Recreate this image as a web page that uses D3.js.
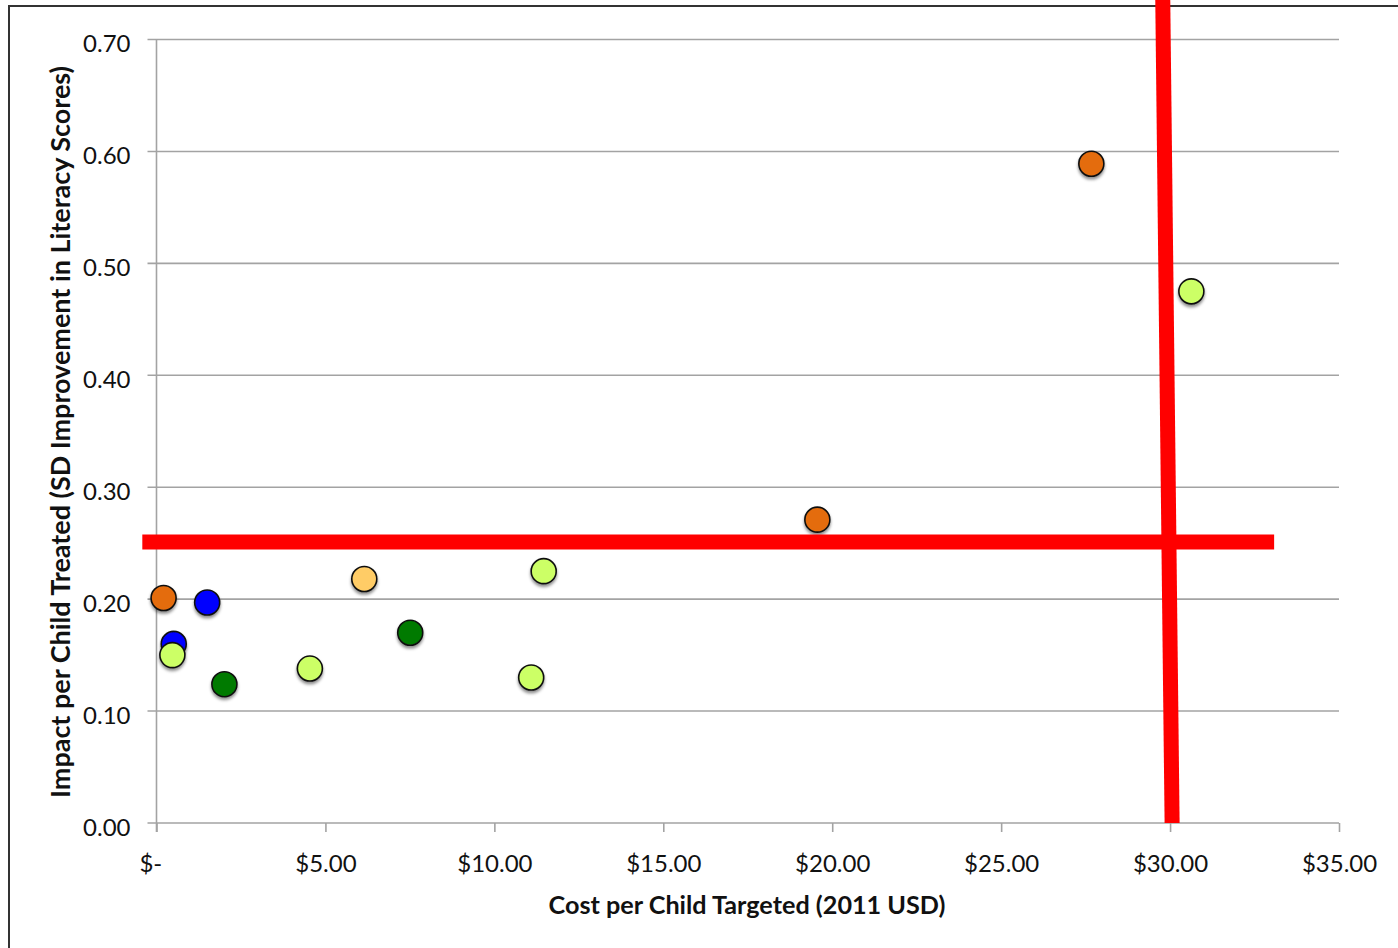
<!DOCTYPE html>
<html>
<head>
<meta charset="utf-8">
<script src="https://cdn.jsdelivr.net/npm/d3@7"></script>
<style>
  body { margin: 0; background: #fff; }
  svg { display: block; }
  text { font-family: Lato, "Open Sans", sans-serif; fill: #111; }
</style>
</head>
<body>
<svg id="chart" width="1398" height="948"></svg>
<script>
// Programmes: cost per child targeted (2011 USD) and impact per child treated (SD)
const costs   = [0.21, 0.51, 1.50, 0.47, 2.01, 4.54, 6.15, 7.51, 11.46, 11.09, 19.56, 27.67, 30.63];
const impacts = [0.201, 0.160, 0.197, 0.150, 0.124, 0.138, 0.218, 0.170, 0.225, 0.130, 0.271, 0.589, 0.475];
const groups  = ["A", "B", "B", "D", "C", "D", "E", "C", "D", "D", "A", "A", "D"];

const groupNames  = ["A", "B", "C", "D", "E"];
const groupColors = ["#e46c0a", "#0000ff", "#007a00", "#ccff66", "#ffcc66"];

// Axis ticks
const xTicks = [0, 5, 10, 15, 20, 25, 30, 35];
const xTickLabels = ["$-  ", "$5.00", "$10.00", "$15.00", "$20.00", "$25.00", "$30.00", "$35.00"];
const yTicks = [0, 0.1, 0.2, 0.3, 0.4, 0.5, 0.6, 0.7];
const yTickLabels = ["0.00", "0.10", "0.20", "0.30", "0.40", "0.50", "0.60", "0.70"];

// Threshold lines (cost ~ $30, impact 0.25 SD)
const thresholdImpact = [[-0.42, 0.251], [33.08, 0.251]];
const thresholdCost   = [[30.06, 0], [29.78, 0.745]];

const xTitle = "Cost per Child Targeted (2011 USD)";
const yTitle = "Impact per Child Treated (SD Improvement in Literacy Scores)";

const svg = d3.select("#chart");
const W = 1398, H = 948;

const x = d3.scaleLinear().domain([0, 35]).range([156.5, 1339]);
const y = d3.scaleLinear().domain([0, 0.7]).range([823, 39.5]);
const color = d3.scaleOrdinal().domain(groupNames).range(groupColors);

const defs = svg.append("defs");
const shadow = defs.append("filter").attr("id", "dot-shadow")
  .attr("x", "-50%").attr("y", "-50%").attr("width", "200%").attr("height", "200%");
shadow.append("feDropShadow").attr("dx", 0).attr("dy", 2.5).attr("stdDeviation", 1.6)
  .attr("flood-color", "#000").attr("flood-opacity", 0.45);

// Outer frame
svg.append("path")
  .attr("d", `M9,${H} L9,6 L${W},6`)
  .attr("fill", "none").attr("stroke", "#333").attr("stroke-width", 2);

// Horizontal gridlines
svg.append("g").selectAll("line").data(yTicks).join("line")
  .attr("x1", x(0) - 9).attr("x2", x(35))
  .attr("y1", d => y(d)).attr("y2", d => y(d))
  .attr("stroke", "#a3a3a3").attr("stroke-width", 1.6);

// Y axis
const yAxis = svg.append("g").attr("transform", `translate(${x(0)},0)`)
  .call(d3.axisLeft(y).tickValues(yTicks).tickFormat((d, i) => yTickLabels[i])
    .tickSize(0).tickPadding(26));
yAxis.select(".domain").remove();
yAxis.selectAll("text").attr("font-size", 24).attr("dy", "0.5em")
  .style("font-family", "Lato, sans-serif").attr("fill", "#111");
svg.append("line")
  .attr("x1", x(0)).attr("x2", x(0)).attr("y1", y(0.7)).attr("y2", y(0) + 9)
  .attr("stroke", "#a3a3a3").attr("stroke-width", 1.6);

// X axis
const xAxis = svg.append("g").attr("transform", `translate(0,${y(0)})`)
  .call(d3.axisBottom(x).tickValues(xTicks).tickFormat((d, i) => xTickLabels[i])
    .tickSize(9).tickPadding(23));
xAxis.select(".domain").remove();
xAxis.selectAll("line").attr("stroke", "#a3a3a3").attr("stroke-width", 1.6);
xAxis.selectAll("text").attr("font-size", 24).style("white-space", "pre")
  .style("font-family", "Lato, sans-serif").attr("fill", "#111");

// Axis titles
svg.append("text")
  .attr("x", 747).attr("y", 914)
  .attr("text-anchor", "middle").attr("font-size", 25).attr("font-weight", "bold")
  .attr("textLength", 397).attr("lengthAdjust", "spacingAndGlyphs")
  .text(xTitle);
svg.append("text")
  .attr("transform", `translate(70,432) rotate(-90)`)
  .attr("text-anchor", "middle").attr("font-size", 26).attr("font-weight", "bold")
  .attr("textLength", 732).attr("lengthAdjust", "spacingAndGlyphs")
  .text(yTitle);

// Points
const points = costs.map((c, i) => ({ cost: c, impact: impacts[i], group: groups[i] }));
svg.append("g").selectAll("circle").data(points).join("circle")
  .attr("cx", d => x(d.cost)).attr("cy", d => y(d.impact)).attr("r", 12.5)
  .attr("fill", d => color(d.group))
  .attr("stroke", "#111").attr("stroke-width", 1.6)
  .attr("filter", "url(#dot-shadow)");

// Threshold lines
const line = d3.line().x(d => x(d[0])).y(d => y(d[1]));
[thresholdImpact, thresholdCost].forEach(seg => {
  svg.append("path").attr("d", line(seg))
    .attr("fill", "none").attr("stroke", "#ff0000").attr("stroke-width", 15)
    .attr("stroke-linecap", "butt");
});
</script>
</body>
</html>
